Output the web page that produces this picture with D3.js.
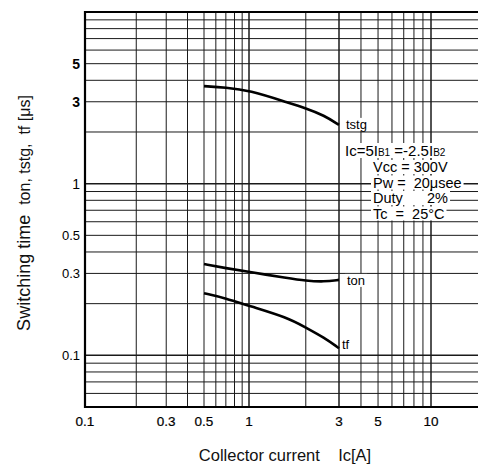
<!DOCTYPE html>
<html>
<head>
<meta charset="utf-8">
<script src="https://cdn.jsdelivr.net/npm/d3@7"></script>
<style>
    body { margin: 0; background: #fff; }
    svg { display: block; font-family: "Liberation Sans", Arial, sans-serif; }
</style>
</head>
<body>
<svg id="chart" width="478" height="470"></svg>
<script>
// values
var currents = [0.5, 0.7, 1, 1.6, 2, 2.5, 3];
var tstg = [3.7, 3.63, 3.5, 2.97, 2.75, 2.5, 2.2];
var ton = [0.34, 0.322, 0.306, 0.282, 0.272, 0.268, 0.275];
var tf = [0.23, 0.215, 0.194, 0.166, 0.145, 0.127, 0.11];

var xTicks = [0.1, 0.3, 0.5, 1, 3, 5, 10];
var xTickLabels = ["0.1", "0.3", "0.5", "1", "3", "5", "10"];
var yTicks = [0.1, 0.3, 0.5, 1, 3, 5];
var yTickLabels = ["0.1", "0.3", "0.5", "1", "3", "5"];

var conditions = ["Vcc = 300V", "Pw =  20μsee", "Duty      2%", "Tc  =  25°C"];

var svg = d3.select("#chart");

// the scan is a bit uneven horizontally, so piecewise log
var x = d3.scaleLog()
    .domain([0.1, 0.5, 1, 3, 10])
    .range([85, 204, 249, 339, 431]);
var y = d3.scaleLog()
    .domain([0.05, 10])
    .range([407, 12]);

// grid
var xGrid = [], yGrid = [];
[0.1, 1].forEach(function(dec) {
    for (var m = 1; m <= 9; m++) xGrid.push(+(dec * m).toFixed(3));
});
xGrid.push(10);
[0.01, 0.1, 1].forEach(function(dec) {
    for (var m = 1; m <= 9; m++) {
        var v = +(dec * m).toFixed(3);
        if (v >= 0.05 && v <= 10) yGrid.push(v);
    }
});
yGrid.push(10);

var grid = svg.append("g");
grid.selectAll("line.v")
    .data(xGrid)
    .enter().append("line")
    .attr("class", "v")
    .attr("x1", function(d) { return x(d); })
    .attr("x2", function(d) { return x(d); })
    .attr("y1", y(10))
    .attr("y2", y(0.05))
    .attr("stroke", "#1a1a1a")
    .attr("stroke-width", function(d) { return (d === 1 || d === 10 || d === 3) ? 1.5 : 1; });

grid.selectAll("line.h")
    .data(yGrid)
    .enter().append("line")
    .attr("class", "h")
    .attr("x1", x(0.1))
    .attr("x2", 478)
    .attr("y1", function(d) { return y(d); })
    .attr("y2", function(d) { return y(d); })
    .attr("stroke", "#1a1a1a")
    .attr("stroke-width", function(d) { return (d === 0.1 || d === 1) ? 1.5 : 1; });

// frame: left, top, bottom
svg.append("line").attr("x1", x(0.1)).attr("x2", x(0.1)).attr("y1", y(10) - 1).attr("y2", y(0.05) + 1)
    .attr("stroke", "#000").attr("stroke-width", 2.2);
svg.append("line").attr("x1", x(0.1)).attr("x2", 478).attr("y1", y(10)).attr("y2", y(10))
    .attr("stroke", "#000").attr("stroke-width", 2.2);
svg.append("line").attr("x1", x(0.1)).attr("x2", 478).attr("y1", y(0.05)).attr("y2", y(0.05))
    .attr("stroke", "#000").attr("stroke-width", 2.2);

// tick labels
svg.append("g").selectAll("text")
    .data(yTicks)
    .enter().append("text")
    .attr("x", 80)
    .attr("y", function(d) { return y(d) + 5; })
    .attr("text-anchor", "end")
    .attr("font-size", function(d) { return d < 1 ? 13 : 14; })
    .attr("font-weight", function(d) { return d > 1 ? "bold" : "normal"; })
    .text(function(d, i) { return yTickLabels[i]; });

svg.append("g").selectAll("text")
    .data(xTicks)
    .enter().append("text")
    .attr("x", function(d) { return x(d); })
    .attr("y", 426)
    .attr("text-anchor", "middle")
    .attr("font-size", 13.5)
    .attr("stroke", "#000").attr("stroke-width", 0.2)
    .text(function(d, i) { return xTickLabels[i]; });

// axis titles
var yt = svg.append("text")
    .attr("transform", "translate(30,213) rotate(-90)")
    .attr("text-anchor", "middle")
    .attr("font-size", 18)
    .attr("fill", "#111")
    .attr("xml:space", "preserve");
yt.append("tspan").text("Switching time  ");
yt.append("tspan").attr("font-size", 16).text("ton, tstg,  tf [μs]");

svg.append("text")
    .attr("x", 285)
    .attr("y", 461)
    .attr("text-anchor", "middle")
    .attr("font-size", 16.5)
    .attr("fill", "#111")
    .attr("xml:space", "preserve")
    .text("Collector current    Ic[A]");

// curves
var line = d3.line()
    .x(function(d) { return x(d[0]); })
    .y(function(d) { return y(d[1]); })
    .curve(d3.curveBasis);

[tstg, ton, tf].forEach(function(s) {
    svg.append("path")
        .datum(currents.map(function(c, i) { return [c, s[i]]; }))
        .attr("d", line)
        .attr("fill", "none")
        .attr("stroke", "#000")
        .attr("stroke-width", 2.6);
});

// labels sit on white boxes that knock out the grid
var labels = svg.append("g");
function label(tx, ty, txt, size) {
    return labels.append("text")
        .attr("x", tx).attr("y", ty)
        .attr("font-size", size)
        .attr("xml:space", "preserve")
        .attr("fill", "#000")
        .text(txt);
}
label(x(3) + 7, y(tstg[6]) + 4, "tstg", 13);
label(x(3) + 8, y(ton[6]) + 5, "ton", 13);
label(x(3) + 3, y(tf[6]) + 1, "tf", 13);

var ic = labels.append("text")
    .attr("x", 345).attr("y", 156)
    .attr("font-size", 15)
    .attr("xml:space", "preserve")
    .attr("fill", "#000");
ic.append("tspan").text("Ic=5I");
ic.append("tspan").attr("font-size", 10).text("B1");
ic.append("tspan").text(" =-2.5I");
ic.append("tspan").attr("font-size", 10).text("B2");

conditions.forEach(function(c, i) {
    label(373, 172 + i * 15.5, c, 14.5);
});

labels.selectAll("text").each(function() {
    var b = this.getBBox();
    labels.insert("rect", ":first-child")
        .attr("x", b.x - 2).attr("y", b.y + 1)
        .attr("width", b.width + 4).attr("height", b.height - 2)
        .attr("fill", "#fff");
});
</script>
</body>
</html>
